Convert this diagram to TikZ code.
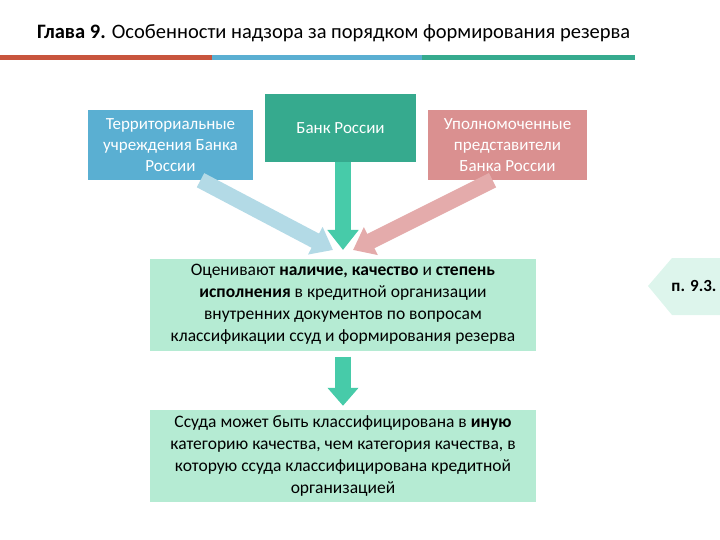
\documentclass[tikz,border=0pt]{standalone}
\usepackage{fontspec}
\setmainfont{Carlito}
\usetikzlibrary{arrows.meta,calc}
\definecolor{cblue}{HTML}{5AAFD2}
\definecolor{cteal}{HTML}{36AA8E}
\definecolor{cpink}{HTML}{DA9090}
\definecolor{cgreen}{HTML}{B5EBD3}
\definecolor{ablue}{HTML}{B3DAE6}
\definecolor{apink}{HTML}{E4ABAB}
\definecolor{ateal}{HTML}{47CBA9}
\definecolor{bred}{HTML}{C8553D}
\definecolor{hex}{HTML}{DDF5EC}
\tikzset{
 topbox/.style={text=white,font=\fontsize{17}{21}\selectfont,align=center,inner sep=0pt,minimum height=70pt},
 greenbox/.style={fill=cgreen,font=\fontsize{17.5}{22}\selectfont,align=center,minimum width=386pt,minimum height=92pt,inner sep=0pt},
 fat/.style={line width=16pt,-{Triangle[width=30pt,length=20pt]}}
}
\begin{document}
\begin{tikzpicture}[x=1pt,y=-1pt]
\useasboundingbox (0,0) rectangle (720,540);
\node[font=\fontsize{20.5}{24}\selectfont\bfseries,anchor=west,inner sep=0pt] (title) at (37,33) {Глава 9. \mdseries Особенности надзора за порядком формирования резерва};
\fill[bred] (0,55) rectangle (212,60);
\fill[cblue] (212,55) rectangle (422,60);
\fill[cteal] (422,55) rectangle (635,60);
\node[topbox,fill=cblue,minimum width=165pt] (tu) at (170.5,145) {Территориальные\\учреждения Банка\\России};
\node[topbox,fill=cteal,minimum width=151pt,minimum height=68pt] (br) at (340.5,128) {Банк России};
\node[topbox,fill=cpink,minimum width=159pt] (up) at (507.5,145) {Уполномоченные\\представители\\Банка России};
\node[greenbox] (g1) at (343,304.5) {Оценивают \textbf{наличие, качество} и \textbf{степень}\\\textbf{исполнения} в кредитной организации\\внутренних документов по вопросам\\классификации ссуд и формирования резерва};
\node[greenbox] (g2) at (343,456) {Ссуда может быть классифицирована в \textbf{иную}\\категорию качества, чем категория качества, в\\которую ссуда классифицирована кредитной\\организацией};
\coordinate (tip) at (343,250);
\draw[fat,draw=ablue] ($(tu.south)+(30,0)$) -- (333,250);
\draw[fat,draw=apink] ($(up.south)-(15,0)$) -- (353,250);
\draw[fat,draw=ateal] ($(br.south)+(2.5,0)$) -- (tip);
\draw[fat,draw=ateal,-{Triangle[width=30pt,length=18pt]}] ($(g1.south)+(0,6)$) -- ($(g2.north)+(0,-4)$);
\fill[hex] (648,286) -- (672,258) -- (720,258) -- (720,315) -- (672,315) -- cycle;
\node[font=\fontsize{17}{20}\selectfont\bfseries] (p) at (694,286) {п. 9.3.};
\end{tikzpicture}
\end{document}
